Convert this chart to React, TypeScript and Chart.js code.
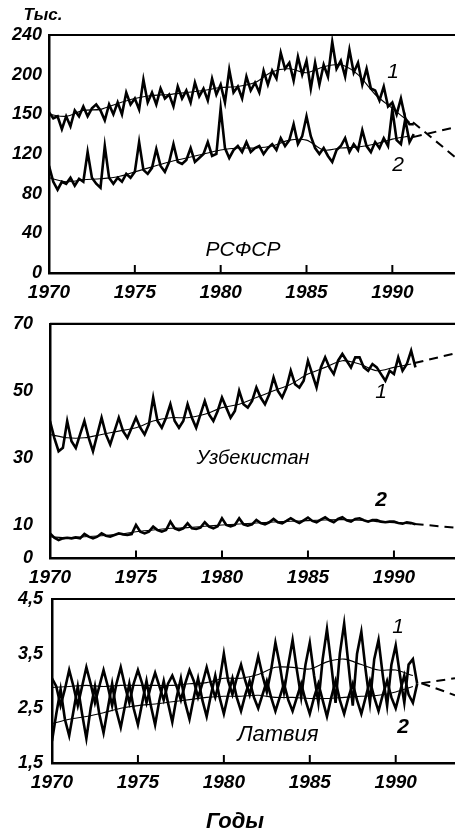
import { useEffect, useRef } from "react";
import { Chart, registerables } from "chart.js";
Chart.register(...registerables);

// ---------- shared ----------
const FIRST_YEAR = 1970;
const PER_YEAR = 4; // quarterly readings
const YEAR_TICKS = [1970, 1975, 1980, 1985, 1990];

// ---------- РСФСР ----------
const RSFSR_Y_TICKS = [0, 40, 80, 120, 160, 200, 240];
const RSFSR_Y_LABELS = ["0", "40", "80", "120", "150", "200", "240"];
const RSFSR_1 = [
  162, 156, 158, 145, 158, 148, 164, 158, 168, 158, 166, 170, 164, 154, 170, 160,
  172, 160, 182, 170, 176, 165, 195, 172, 182, 170, 186, 176, 180, 168, 188, 176,
  184, 172, 192, 178, 186, 174, 196, 180, 190, 172, 205, 182, 188, 176, 198, 184,
  192, 182, 204, 190, 204, 196, 222, 206, 212, 194, 218, 200, 214, 186, 212, 190,
  210, 198, 233, 206, 214, 198, 225, 202, 212, 190, 206, 186, 184, 174, 188, 168,
  172, 160, 176, 156, 150, 150,
];
const RSFSR_1_TREND = [160, 158, 164, 165, 171, 176, 179, 180, 182, 184, 187, 188, 192, 203, 206, 202, 208, 210, 200, 180, 166, 152];
const RSFSR_2 = [
  108, 92, 84, 92, 90, 96, 88, 95, 92, 122, 96, 90, 86, 128, 96, 90,
  96, 92, 100, 96, 102, 132, 104, 100, 106, 125, 108, 102, 112, 130, 112, 110,
  114, 126, 112, 116, 120, 132, 118, 120, 166, 126, 116, 124, 128, 122, 132, 122,
  126, 128, 120, 126, 130, 124, 136, 128, 134, 150, 130, 138, 158, 138, 126, 120,
  126, 118, 112, 124, 128, 136, 122, 130, 124, 144, 128, 122, 132, 126, 136, 128,
  165, 134, 130, 155, 132, 140,
];
const RSFSR_2_TREND = [96, 92, 94, 95, 97, 102, 107, 112, 116, 120, 124, 126, 126, 128, 134, 134, 124, 126, 127, 130, 135, 138];
const RSFSR_FORECAST_X = [1991.2, 1993.65];
const RSFSR_1_FORECAST = [152, 117];
const RSFSR_2_FORECAST = [137, 147];

// ---------- Узбекистан ----------
const UZ_Y_TICKS = [0, 10, 30, 50, 70];
const UZ_Y_LABELS = ["0", "10", "30", "50", "70"];
const UZ_1 = [
  41, 36, 32, 33, 41, 35, 33, 37, 41, 36, 32, 37, 42, 37, 34, 38,
  42, 38, 36, 39, 42, 39, 37, 40, 48, 41, 39, 42, 46, 41, 39, 41,
  46, 42, 39, 43, 47, 43, 41, 44, 48, 45, 42, 44, 50, 46, 45, 47,
  51, 48, 46, 49, 54, 50, 48, 51, 56, 52, 51, 53, 59, 55, 51, 57,
  60, 57, 55, 59, 61, 59, 57, 60, 60, 57, 56, 58, 57, 55, 53, 56,
  55, 60, 56, 58, 62, 57,
];
const UZ_1_TREND = [37, 36, 36, 37, 38, 39, 41, 42, 42, 43, 45, 46, 48, 50, 52, 55, 57, 59, 58, 56, 57, 58];
const UZ_2 = [
  7.5, 6.2, 5.5, 6.0, 6.2, 6.0, 6.3, 6.0, 7.3, 6.5, 6.0, 6.5, 7.5, 6.8, 6.5, 7.0,
  7.5, 7.2, 7.0, 7.3, 10.0, 8.0, 7.5, 8.0, 9.5, 8.5, 8.0, 8.5, 11.0, 9.0, 8.5, 9.0,
  10.5, 9.0, 8.8, 9.2, 10.8, 9.5, 9.0, 9.6, 12.0, 10.0, 9.6, 10.0, 12.0, 10.2, 9.8, 10.2,
  11.5, 10.6, 10.2, 10.8, 11.8, 10.8, 10.5, 11.2, 12.0, 11.2, 10.6, 11.4, 12.2, 11.2, 10.8, 11.6,
  12.3, 11.4, 10.8, 11.8, 12.3, 11.4, 11.0, 11.8, 12.0, 11.4, 11.0, 11.5, 11.5, 11.0, 10.8, 11.0,
  11.0, 10.6, 10.4, 10.8, 10.6, 10.2,
];
const UZ_2_TREND = [6.5, 6.2, 6.5, 6.8, 7.2, 8.0, 8.5, 9.0, 9.2, 9.6, 10.0, 10.3, 10.6, 10.9, 11.1, 11.3, 11.5, 11.6, 11.4, 11.0, 10.7, 10.3];
const UZ_FORECAST_X = [1991.2, 1993.55];
const UZ_1_FORECAST = [58.3, 61.2];
const UZ_2_FORECAST = [10.3, 9.2];

// ---------- Латвия ----------
const LV_Y_TICKS = [1.5, 2.5, 3.5, 4.5];
const LV_Y_LABELS = ["1,5", "2,5", "3,5", "4,5"];
const LV_1 = [
  3.05, 2.9, 2.55, 2.85, 3.2, 2.9, 2.55, 2.9, 3.25, 2.95, 2.6, 2.9, 3.2, 2.9, 2.55, 2.95,
  3.25, 2.9, 2.6, 2.95, 3.2, 2.95, 2.6, 2.9, 3.15, 2.9, 2.65, 2.95, 3.1, 2.9, 2.65, 2.95,
  3.2, 3.0, 2.7, 2.95, 3.25, 2.95, 2.7, 3.0, 3.5, 3.0, 2.75, 3.05, 3.3, 3.0, 2.75, 3.1,
  3.45, 3.1, 2.8, 3.2, 3.7, 3.3, 2.8, 3.3, 3.75, 3.2, 2.7, 3.3, 3.7, 3.1, 2.6, 3.4,
  3.95, 3.3, 2.6, 3.5, 4.05, 3.3, 2.55, 3.5, 3.9, 3.2, 2.6, 3.4, 3.75, 3.1, 2.55, 3.3,
  3.65, 3.1, 2.6, 3.3, 3.4, 2.95,
];
const LV_1_TREND = [2.88, 2.9, 2.92, 2.9, 2.92, 2.92, 2.92, 2.92, 2.95, 2.97, 3.05, 3.05, 3.12, 3.25, 3.25, 3.22, 3.35, 3.4, 3.3, 3.2, 3.2, 3.1];
const LV_2 = [
  1.9, 2.4, 2.85, 2.3, 2.0, 2.45, 2.9, 2.4, 1.95, 2.5, 2.9, 2.4, 2.05, 2.5, 2.95, 2.45,
  2.15, 2.55, 2.95, 2.5, 2.2, 2.6, 3.0, 2.55, 2.2, 2.65, 3.0, 2.6, 2.25, 2.7, 3.05, 2.6,
  2.3, 2.7, 3.05, 2.65, 2.35, 2.75, 3.1, 2.7, 2.4, 2.75, 3.05, 2.7, 2.45, 2.75, 3.0, 2.7,
  2.5, 2.75, 3.0, 2.7, 2.45, 2.7, 2.95, 2.65, 2.45, 2.7, 2.95, 2.65, 2.4, 2.7, 2.95, 2.65,
  2.35, 2.7, 3.0, 2.65, 2.4, 2.7, 2.95, 2.65, 2.4, 2.7, 3.0, 2.7, 2.45, 2.75, 3.0, 2.7,
  2.5, 2.8, 3.1, 2.75, 2.6, 2.95,
];
const LV_2_TREND = [2.22, 2.3, 2.35, 2.42, 2.5, 2.55, 2.58, 2.62, 2.66, 2.7, 2.72, 2.72, 2.74, 2.7, 2.7, 2.68, 2.68, 2.7, 2.72, 2.74, 2.8, 2.9];
const LV_FORECAST_X = [1991.5, 1993.45];
const LV_1_FORECAST = [2.96, 3.05];
const LV_2_FORECAST = [2.96, 2.74];

// ---------- helpers ----------
const quarterly = (vals: number[]) => vals.map((v, i) => ({ x: FIRST_YEAR + i / PER_YEAR, y: v }));
const yearly = (vals: number[]) => vals.map((v, i) => ({ x: FIRST_YEAR + i, y: v }));
const pairs = (xs: number[], ys: number[]) => xs.map((x, i) => ({ x, y: ys[i] }));

const SANS = "'Liberation Sans', Arial, 'DejaVu Sans', sans-serif";

type Txt = { text: string; x: number; y: number; font: string };
type PanelCfg = {
  top: number;
  height: number;
  areaTop: number;
  areaBottom: number;
  axisLeft: number;
  yPad: number;
  xMax: number;
  yMin: number;
  yMax: number;
  yTicks: number[];
  yLabels: string[];
  raw: number[][];
  trend: number[][];
  forecastX: number[];
  forecast: number[][];
  texts: Txt[];
};

const PANELS: PanelCfg[] = [
  {
    top: 0, height: 302, areaTop: 35, areaBottom: 273, axisLeft: 49, yPad: 7, xMax: 1993.65,
    yMin: 0, yMax: 240, yTicks: RSFSR_Y_TICKS, yLabels: RSFSR_Y_LABELS,
    raw: [RSFSR_1, RSFSR_2], trend: [RSFSR_1_TREND, RSFSR_2_TREND],
    forecastX: RSFSR_FORECAST_X, forecast: [RSFSR_1_FORECAST, RSFSR_2_FORECAST],
    texts: [
      { text: "Тыс.", x: 43, y: 15, font: `italic bold 17px ${SANS}` },
      { text: "РСФСР", x: 243, y: 250, font: `italic 21px ${SANS}` },
      { text: "1", x: 393, y: 72, font: `italic 21px ${SANS}` },
      { text: "2", x: 398, y: 165, font: `italic 21px ${SANS}` },
    ],
  },
  {
    top: 296, height: 294, areaTop: 21, areaBottom: 262.5, axisLeft: 50, yPad: 17, xMax: 1993.55,
    yMin: 0, yMax: 70, yTicks: UZ_Y_TICKS, yLabels: UZ_Y_LABELS,
    raw: [UZ_1, UZ_2], trend: [UZ_1_TREND, UZ_2_TREND],
    forecastX: UZ_FORECAST_X, forecast: [UZ_1_FORECAST, UZ_2_FORECAST],
    texts: [
      { text: "Узбекистан", x: 253, y: 162, font: `italic 20px ${SANS}` },
      { text: "1", x: 381, y: 96, font: `italic 21px ${SANS}` },
      { text: "2", x: 381, y: 204, font: `italic bold 21px ${SANS}` },
    ],
  },
  {
    top: 578, height: 258, areaTop: 21, areaBottom: 185, axisLeft: 52, yPad: 9, xMax: 1993.45,
    yMin: 1.5, yMax: 4.5, yTicks: LV_Y_TICKS, yLabels: LV_Y_LABELS,
    raw: [LV_1, LV_2], trend: [LV_1_TREND, LV_2_TREND],
    forecastX: LV_FORECAST_X, forecast: [LV_1_FORECAST, LV_2_FORECAST],
    texts: [
      { text: "Латвия", x: 278, y: 157, font: `italic 22px ${SANS}` },
      { text: "1", x: 398, y: 49, font: `italic 21px ${SANS}` },
      { text: "2", x: 403, y: 149, font: `italic bold 21px ${SANS}` },
      { text: "Годы", x: 235, y: 244, font: `italic bold 22px ${SANS}` },
    ],
  },
];

function Panel({ cfg }: { cfg: PanelCfg }) {
  const ref = useRef<HTMLCanvasElement | null>(null);
  useEffect(() => {
    const canvas = ref.current;
    if (!canvas) return;
    const framePlugin = {
      id: "frame",
      afterDraw(chart: any) {
        const { ctx, chartArea } = chart;
        const xs = chart.scales.x;
        ctx.save();
        ctx.strokeStyle = "#000";
        ctx.lineWidth = 2.2;
        ctx.beginPath();
        ctx.moveTo(chartArea.left, chartArea.top);
        ctx.lineTo(chartArea.right, chartArea.top);
        ctx.stroke();
        ctx.lineWidth = 2;
        YEAR_TICKS.slice(1).forEach((yr) => {
          const px = xs.getPixelForValue(yr);
          ctx.beginPath();
          ctx.moveTo(px, chartArea.bottom);
          ctx.lineTo(px, chartArea.bottom - 8);
          ctx.stroke();
        });
        ctx.fillStyle = "#000";
        ctx.textAlign = "center";
        ctx.textBaseline = "middle";
        cfg.texts.forEach((t) => {
          ctx.font = t.font;
          ctx.fillText(t.text, t.x, t.y);
        });
        ctx.restore();
      },
    };

    const datasets: any[] = [];
    cfg.trend.forEach((vals) =>
      datasets.push({ data: yearly(vals), borderColor: "#000", borderWidth: 1.1, pointRadius: 0, tension: 0.3 })
    );
    cfg.raw.forEach((vals) =>
      datasets.push({ data: quarterly(vals), borderColor: "#000", borderWidth: 2.6, pointRadius: 0, tension: 0 })
    );
    cfg.forecast.forEach((vals) =>
      datasets.push({ data: pairs(cfg.forecastX, vals), borderColor: "#000", borderWidth: 2, borderDash: [9, 6], pointRadius: 0 })
    );

    const chart = new Chart(canvas, {
      type: "line",
      data: { datasets },
      plugins: [framePlugin],
      options: {
        responsive: false,
        animation: false,
        events: [],
        layout: { padding: { top: cfg.areaTop, left: 0, right: 0, bottom: 0 } },
        plugins: { legend: { display: false }, tooltip: { enabled: false } },
        scales: {
          x: {
            type: "linear",
            min: FIRST_YEAR,
            max: cfg.xMax,
            afterBuildTicks: (s: any) => {
              s.ticks = YEAR_TICKS.map((v) => ({ value: v }));
            },
            afterFit: (s: any) => {
              s.height = cfg.height - cfg.areaBottom;
            },
            grid: { display: false, drawTicks: false },
            border: { display: true, color: "#000", width: 2.5 },
            ticks: {
              color: "#000",
              padding: 8,
              maxRotation: 0,
              autoSkip: false,
              font: { family: SANS, size: 19, style: "italic", weight: "bold" },
              callback: (v: any) => String(v),
            },
          },
          y: {
            type: "linear",
            min: cfg.yMin,
            max: cfg.yMax,
            afterBuildTicks: (s: any) => {
              s.ticks = cfg.yTicks.map((v) => ({ value: v }));
            },
            afterFit: (s: any) => {
              s.width = cfg.axisLeft;
            },
            grid: { display: false, drawTicks: false },
            border: { display: true, color: "#000", width: 2.5 },
            ticks: {
              color: "#000",
              padding: cfg.yPad,
              autoSkip: false,
              font: { family: SANS, size: 18, style: "italic", weight: "bold" },
              callback: (_v: any, i: number) => cfg.yLabels[i],
            },
          },
        },
      } as any,
    });
    return () => chart.destroy();
  }, [cfg]);
  return (
    <canvas
      ref={ref}
      width={455}
      height={cfg.height}
      style={{ position: "absolute", left: 0, top: cfg.top, width: 455, height: cfg.height }}
    />
  );
}

export default function App() {
  return (
    <div style={{ position: "absolute", left: 0, top: 0, width: 455, height: 836, background: "#fff", overflow: "hidden" }}>
      {PANELS.map((p, i) => (
        <Panel key={i} cfg={p} />
      ))}
    </div>
  );
}
